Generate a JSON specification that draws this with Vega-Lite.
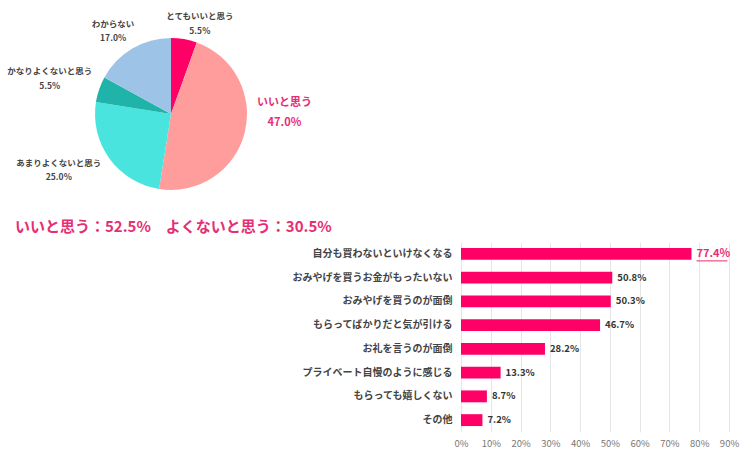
{
  "$schema": "https://vega.github.io/schema/vega-lite/v6.json",
  "padding": {"left": 5, "top": 8, "right": 5, "bottom": 5},
  "background": "white",
  "config": {"font": "Noto Sans CJK JP", "view": {"stroke": null}, "concat": {"spacing": 0}},
  "vconcat": [
    {
      "width": 332,
      "height": 212,
      "data": {"values": [
        {"name": "とてもいいと思う", "value": 0.055, "rank": 1},
        {"name": "いいと思う", "value": 0.47, "rank": 2},
        {"name": "あまりよくないと思う", "value": 0.25, "rank": 3},
        {"name": "かなりよくないと思う", "value": 0.055, "rank": 4},
        {"name": "わからない", "value": 0.17, "rank": 5}
      ]},
      "transform": [
        {"stack": "value", "groupby": [], "sort": [{"field": "rank", "order": "ascending"}], "as": ["v0", "v1"]},
        {"calculate": "(datum.v0 + datum.v1) / 2", "as": "mid"},
        {"calculate": "datum.name + '\\n' + format(datum.value, '.1%')", "as": "label"}
      ],
      "layer": [
        {
          "mark": {"type": "arc", "outerRadius": 76},
          "encoding": {
            "theta": {"field": "v0", "type": "quantitative", "scale": {"domain": [0, 1]}},
            "theta2": {"field": "v1"},
            "color": {"field": "name", "type": "nominal", "legend": null,
              "scale": {"domain": ["とてもいいと思う", "いいと思う", "あまりよくないと思う", "かなりよくないと思う", "わからない"],
                        "range": ["#FF0066", "#FF9C9C", "#4AE4DF", "#1FB3AA", "#9DC3E6"]}}
          }
        },
        {
          "transform": [{"filter": "datum.name === 'とてもいいと思う'"}],
          "mark": {"type": "text", "radius": 92, "dx": 13, "dy": -7, "fontSize": 8.5, "fontWeight": "bold", "color": "#444", "lineBreak": "\n", "lineHeight": 15},
          "encoding": {"theta": {"field": "mid", "type": "quantitative", "stack": null, "scale": {"domain": [0, 1]}}, "text": {"field": "label", "type": "nominal"}}
        },
        {
          "transform": [{"filter": "datum.name === 'いいと思う'"}],
          "mark": {"type": "text", "radius": 114, "dx": 3, "dy": -39, "fontSize": 11, "fontWeight": "bold", "color": "#E62E74", "lineBreak": "\n", "lineHeight": 20},
          "encoding": {"theta": {"field": "mid", "type": "quantitative", "stack": null, "scale": {"domain": [0, 1]}}, "text": {"field": "label", "type": "nominal"}}
        },
        {
          "transform": [{"filter": "datum.name === 'あまりよくないと思う'"}],
          "mark": {"type": "text", "radius": 130, "dx": -7, "dy": -27, "fontSize": 8.5, "fontWeight": "bold", "color": "#444", "lineBreak": "\n", "lineHeight": 14},
          "encoding": {"theta": {"field": "mid", "type": "quantitative", "stack": null, "scale": {"domain": [0, 1]}}, "text": {"field": "label", "type": "nominal"}}
        },
        {
          "transform": [{"filter": "datum.name === 'かなりよくないと思う'"}],
          "mark": {"type": "text", "radius": 126, "dx": -2, "dy": -2.5, "fontSize": 8.5, "fontWeight": "bold", "color": "#444", "lineBreak": "\n", "lineHeight": 15},
          "encoding": {"theta": {"field": "mid", "type": "quantitative", "stack": null, "scale": {"domain": [0, 1]}}, "text": {"field": "label", "type": "nominal"}}
        },
        {
          "transform": [{"filter": "datum.name === 'わからない'"}],
          "mark": {"type": "text", "radius": 100, "dx": -7, "dy": -4, "fontSize": 8.5, "fontWeight": "bold", "color": "#444", "lineBreak": "\n", "lineHeight": 14},
          "encoding": {"theta": {"field": "mid", "type": "quantitative", "stack": null, "scale": {"domain": [0, 1]}}, "text": {"field": "label", "type": "nominal"}}
        }
      ]
    },
    {
      "width": 724,
      "height": 190,
      "title": {"text": "いいと思う：52.5%　よくないと思う：30.5%", "anchor": "start", "frame": "group", "dx": 10, "color": "#E62E74", "fontSize": 15, "fontWeight": "bold", "offset": 7},
      "data": {"values": [
        {"item": "自分も買わないといけなくなる", "value": 0.774},
        {"item": "おみやげを買うお金がもったいない", "value": 0.508},
        {"item": "おみやげを買うのが面倒", "value": 0.503},
        {"item": "もらってばかりだと気が引ける", "value": 0.467},
        {"item": "お礼を言うのが面倒", "value": 0.282},
        {"item": "プライベート自慢のように感じる", "value": 0.133},
        {"item": "もらっても嬉しくない", "value": 0.087},
        {"item": "その他", "value": 0.072}
      ]},
      "encoding": {
        "y": {"field": "item", "type": "nominal", "sort": null,
          "scale": {"paddingInner": 0.5, "paddingOuter": 0.25},
          "axis": {"title": null, "ticks": false, "domain": false, "offset": -456, "labelPadding": 9, "labelFontSize": 10, "labelFontWeight": "bold", "labelColor": "#444"}},
        "x": {"field": "value", "type": "quantitative", "scale": {"domain": [0, 0.9], "range": [456, 724]},
          "axis": {"title": null, "format": ".0%", "values": [0, 0.1, 0.2, 0.3, 0.4, 0.5, 0.6, 0.7, 0.8, 0.9], "labelOverlap": false, "labelFlush": false, "ticks": false, "domain": false, "gridColor": "#E6E6E6", "labelColor": "#777", "labelFontSize": 9.5, "labelPadding": 6}}
      },
      "layer": [
        {"mark": {"type": "bar", "color": "#FF0066"}},
        {
          "mark": {"type": "text", "align": "left", "dx": 5, "fontWeight": "bold"},
          "encoding": {
            "text": {"field": "value", "type": "quantitative", "format": ".1%"},
            "color": {"condition": {"test": "datum.value > 0.7", "value": "#E62E74"}, "value": "#333"},
            "size": {"condition": {"test": "datum.value > 0.7", "value": 11}, "value": 9.5}
          }
        },
        {
          "transform": [{"filter": "datum.value > 0.7"}],
          "mark": {"type": "rule", "color": "#E62E74", "strokeWidth": 1, "xOffset": 5, "x2Offset": 36, "yOffset": 7},
          "encoding": {"x2": {"field": "value"}}
        }
      ]
    }
  ]
}
